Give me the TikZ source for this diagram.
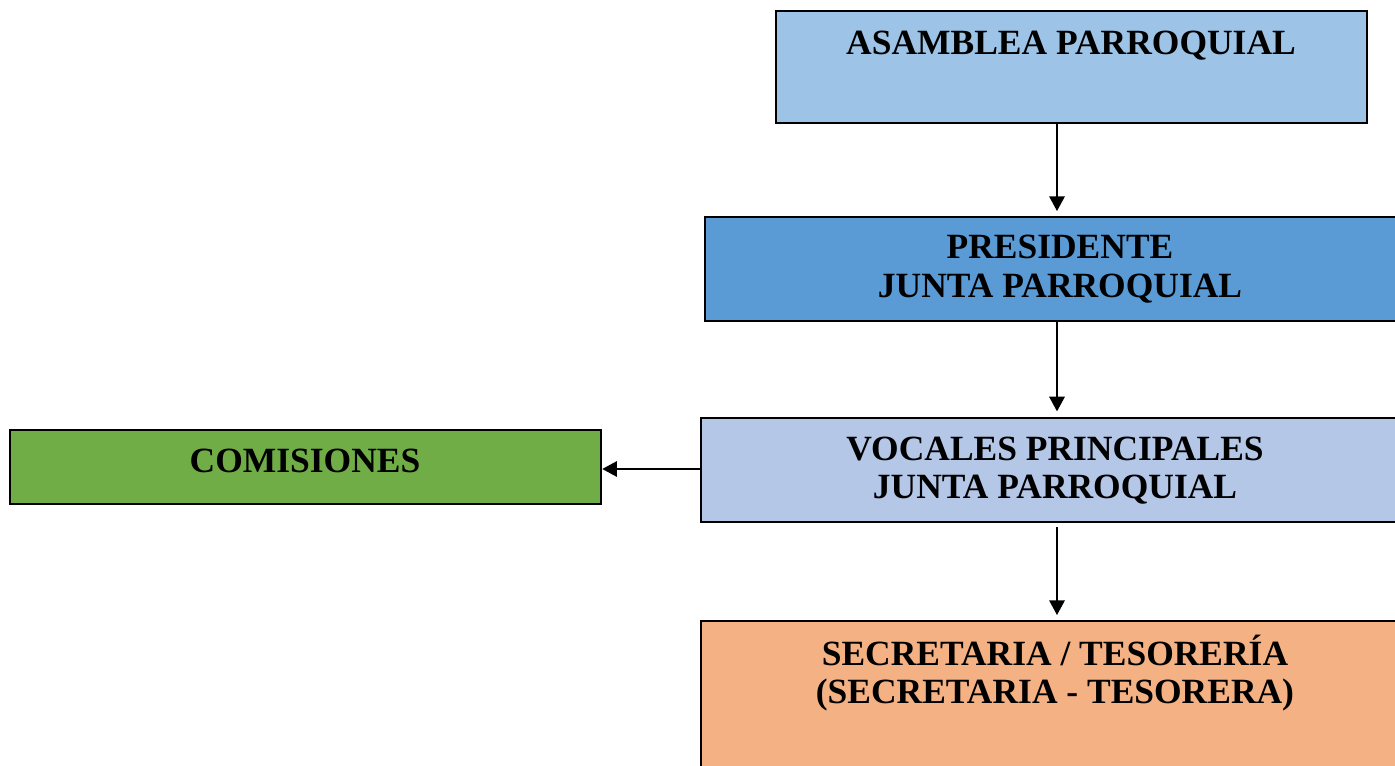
\documentclass[tikz,border=0pt]{standalone}
\usepackage{fontspec}
\setmainfont{Liberation Serif}
\usetikzlibrary{fit,arrows.meta}
\definecolor{cAsm}{HTML}{9DC3E6}
\definecolor{cPres}{HTML}{5B9BD5}
\definecolor{cVoc}{HTML}{B4C7E7}
\definecolor{cCom}{HTML}{70AD47}
\definecolor{cSec}{HTML}{F4B183}
\begin{document}
\begin{tikzpicture}[x=0.75pt,y=-0.75pt,
  box/.style={draw=black, line width=1.9pt, inner sep=0pt},
  lbl/.style={anchor=base, inner sep=0pt, text=black, font=\fontsize{26.6}{29}\selectfont\bfseries},
  arr/.style={line width=1.5pt, draw=black, -{Triangle[length=11pt,width=11.5pt]}}]
\useasboundingbox (0,0) rectangle (1395,766);
\clip (0,0) rectangle (1395,766);
\fill[white] (0,0) rectangle (1395,766);
% boxes
\node[box, fill=cAsm, fit={(776,11)(1367,123)}] (asm) {};
\node[box, fill=cPres, fit={(705,217)(1410,321)}] (pres) {};
\node[box, fill=cVoc, fit={(701,418)(1410,522)}] (voc) {};
\node[box, fill=cCom, fit={(10,430)(601,504)}] (com) {};
\node[box, fill=cSec, fit={(701,621)(1410,780)}] (sec) {};
% labels
\node[lbl] (asmA) at (1071,55) {ASAMBLEA PARROQUIAL};
\node[lbl] (presA) at (1060,259) {PRESIDENTE};
\node[lbl] (presB) at (1060,298) {JUNTA PARROQUIAL};
\node[lbl] (vocA) at (1055,460) {VOCALES PRINCIPALES};
\node[lbl] (vocB) at (1055,498) {JUNTA PARROQUIAL};
\node[lbl] (comA) at (305,472) {COMISIONES};
\node[lbl] (secA) at (1055,665) {SECRETARIA / TESORERÍA};
\node[lbl] (secB) at (1055,703) {(SECRETARIA - TESORERA)};
% connectors
\coordinate (ax) at (1057,0);
\draw[arr, shorten >=3.5pt] (asm.south -| ax) -- (pres.north -| ax);
\draw[arr, shorten >=4pt] (pres.south -| ax) -- (voc.north -| ax);
\draw[arr, shorten <=3pt, shorten >=3.5pt] (voc.south -| ax) -- (sec.north -| ax);
\draw[arr] (voc.west |- com.east) ++(0,2) coordinate (hs) (hs) -- (com.east |- hs);
\end{tikzpicture}
\end{document}
